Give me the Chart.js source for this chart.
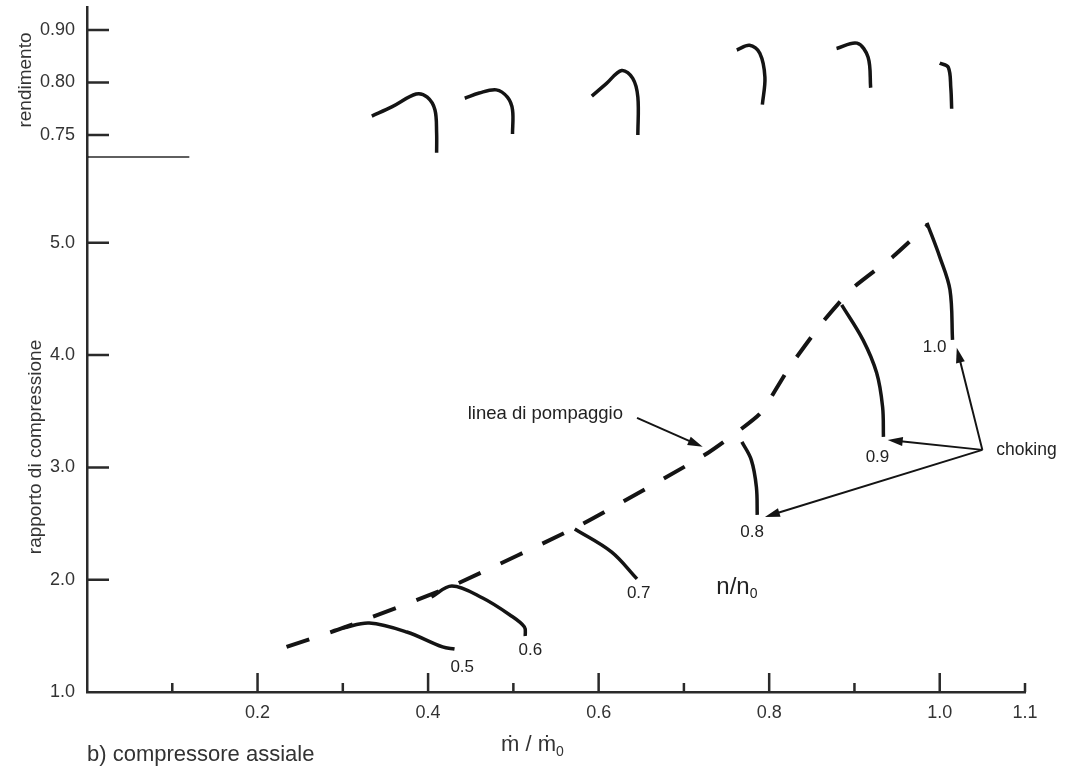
<!DOCTYPE html>
<html>
<head>
<meta charset="utf-8">
<script src="https://cdn.jsdelivr.net/npm/chart.js@4.4.0/dist/chart.umd.min.js"></script>
<style>
html, body { margin: 0; padding: 0; background: #fff; }
#wrap { width: 1068px; height: 769px; }
</style>
</head>
<body>
<div id="wrap"><canvas id="chartMap"></canvas></div>
<script>
// lower map: mass flow ratio (m/m0) vs pressure ratio, one line per speed n/n0
const speedLabels = ['0.5', '0.6', '0.7', '0.8', '0.9', '1.0'];

const flowN05 = [0.300, 0.331, 0.375, 0.417, 0.431];
const prN05 = [1.570, 1.614, 1.534, 1.401, 1.383];
const flowN06 = [0.404, 0.428, 0.464, 0.496, 0.513, 0.514];
const prN06 = [1.846, 1.944, 1.837, 1.686, 1.579, 1.499];
const flowN07 = [0.572, 0.615, 0.645];
const prN07 = [2.451, 2.247, 2.007];
const flowN08 = [0.768, 0.779, 0.785, 0.786];
const prN08 = [3.227, 3.067, 2.826, 2.577];
const flowN09 = [0.885, 0.910, 0.926, 0.933, 0.934];
const prN09 = [4.448, 4.136, 3.842, 3.539, 3.272];
const flowN10 = [0.985, 1.000, 1.012, 1.015];
const prN10 = [5.178, 4.875, 4.581, 4.136];

// surge line (linea di pompaggio)
const flowSurge = [0.234, 0.300, 0.428, 0.581, 0.728, 0.789, 0.824, 0.862, 0.897, 0.945, 0.986];
const prSurge = [1.401, 1.570, 1.944, 2.496, 3.128, 3.477, 3.895, 4.287, 4.590, 4.875, 5.160];

// where the speed labels sit
const labelFlow = [0.440, 0.520, 0.647, 0.780, 0.927, 0.994];
const labelPr = [1.223, 1.374, 1.882, 2.425, 3.094, 4.073];

// upper map: efficiency vs mass flow ratio
const flowEta05 = [0.334, 0.358, 0.386, 0.399, 0.408, 0.410, 0.410];
const eta05 = [0.768, 0.777, 0.789, 0.786, 0.774, 0.752, 0.733];
const flowEta06 = [0.443, 0.460, 0.480, 0.493, 0.499, 0.499];
const eta06 = [0.785, 0.790, 0.793, 0.786, 0.774, 0.751];
const flowEta07 = [0.592, 0.609, 0.627, 0.640, 0.646, 0.646];
const eta07 = [0.787, 0.799, 0.823, 0.808, 0.786, 0.750];
const flowEta08 = [0.762, 0.777, 0.789, 0.795, 0.792];
const eta08 = [0.862, 0.871, 0.856, 0.810, 0.779];
const flowEta09 = [0.879, 0.903, 0.916, 0.919];
const eta09 = [0.865, 0.875, 0.848, 0.795];
const flowEta10 = [1.000, 1.010, 1.013, 1.014];
const eta10 = [0.837, 0.829, 0.795, 0.775];

// choking arrows: start point and the three targets
const chokeFlow = 1.050;
const chokePr = 3.156;
const chokeTargetFlow = [1.020, 0.939, 0.795];
const chokeTargetPr = [4.065, 3.245, 2.559];
// surge label arrow
const surgeArrowFlow = [0.645, 0.722];
const surgeArrowPr = [3.441, 3.183];

// axes ticks
const xMajorTicks = [0.2, 0.4, 0.6, 0.8, 1.0];
const xMinorTicks = [0.1, 0.3, 0.5, 0.7, 0.9, 1.1];
const xTickLabels = {0.2: '0.2', 0.4: '0.4', 0.6: '0.6', 0.8: '0.8', 1.0: '1.0', 1.1: '1.1'};
const prTicks = [1, 2, 3, 4, 5];
const etaTicks = [0.75, 0.80, 0.90];

// the efficiency axis is drawn with evenly spaced ticks (0.75, 0.80, 0.90)
function etaPos(v) {
    if (v <= etaTicks[1]) return (v - etaTicks[0]) / (etaTicks[1] - etaTicks[0]);
    return 1 + (v - etaTicks[1]) / (etaTicks[2] - etaTicks[1]);
}

function pts(xs, ys) {
    return xs.map((v, i) => ({x: v, y: ys[i]}));
}
function etaPts(xs, ys) {
    return xs.map((v, i) => ({x: v, y: etaPos(ys[i])}));
}

const ink = '#141414';
const textColor = '#333';
const font = "'Liberation Sans', 'DejaVu Sans', Arial, sans-serif";

function speedLine(data, axis) {
    return {
        data: data,
        yAxisID: axis,
        borderColor: ink,
        borderWidth: 3.5,
        pointRadius: 0,
        tension: 0.35,
        fill: false
    };
}

const datasets = [
    speedLine(pts(flowN05, prN05), 'y'),
    speedLine(pts(flowN06, prN06), 'y'),
    speedLine(pts(flowN07, prN07), 'y'),
    speedLine(pts(flowN08, prN08), 'y'),
    speedLine(pts(flowN09, prN09), 'y'),
    speedLine(pts(flowN10, prN10), 'y'),
    {
        data: pts(flowSurge, prSurge),
        yAxisID: 'y',
        borderColor: ink,
        borderWidth: 4,
        borderDash: [24, 22],
        pointRadius: 0,
        tension: 0.15,
        fill: false
    },
    speedLine(etaPts(flowEta05, eta05), 'eta'),
    speedLine(etaPts(flowEta06, eta06), 'eta'),
    speedLine(etaPts(flowEta07, eta07), 'eta'),
    speedLine(etaPts(flowEta08, eta08), 'eta'),
    speedLine(etaPts(flowEta09, eta09), 'eta'),
    speedLine(etaPts(flowEta10, eta10), 'eta')
];

function arrow(ctx, x0, y0, x1, y1) {
    const a = Math.atan2(y1 - y0, x1 - x0);
    const len = 15, half = 4.5;
    ctx.beginPath();
    ctx.moveTo(x0, y0);
    ctx.lineTo(x1 - Math.cos(a) * len * 0.7, y1 - Math.sin(a) * len * 0.7);
    ctx.stroke();
    ctx.beginPath();
    ctx.moveTo(x1, y1);
    ctx.lineTo(x1 - len * Math.cos(a) + half * Math.sin(a), y1 - len * Math.sin(a) - half * Math.cos(a));
    ctx.lineTo(x1 - len * Math.cos(a) - half * Math.sin(a), y1 - len * Math.sin(a) + half * Math.cos(a));
    ctx.closePath();
    ctx.fill();
}

const decor = {
    id: 'decor',
    afterDraw(chart) {
        const {ctx, chartArea: area} = chart;
        const xs = chart.scales.x, ys = chart.scales.y, es = chart.scales.eta;
        ctx.save();

        // tick marks pointing into the plot
        ctx.strokeStyle = '#2a2a2a';
        ctx.lineWidth = 2.5;
        ctx.beginPath();
        prTicks.forEach(v => {
            const p = ys.getPixelForValue(v);
            if (v === prTicks[0]) return;
            ctx.moveTo(area.left, p);
            ctx.lineTo(area.left + 22, p);
        });
        etaTicks.forEach((v, i) => {
            const p = es.getPixelForValue(i);
            ctx.moveTo(area.left, p);
            ctx.lineTo(area.left + 22, p);
        });
        xMajorTicks.forEach(v => {
            const p = xs.getPixelForValue(v);
            ctx.moveTo(p, area.bottom);
            ctx.lineTo(p, area.bottom - 19);
        });
        xMinorTicks.forEach(v => {
            const p = xs.getPixelForValue(v);
            ctx.moveTo(p, area.bottom);
            ctx.lineTo(p, area.bottom - 9);
        });
        ctx.stroke();

        // separator between efficiency and pressure ratio panels
        ctx.lineWidth = 1.5;
        ctx.beginPath();
        ctx.moveTo(area.left, es.bottom);
        ctx.lineTo(xs.getPixelForValue(0.12), es.bottom);
        ctx.stroke();

        // arrows
        ctx.strokeStyle = ink;
        ctx.fillStyle = ink;
        ctx.lineWidth = 2;
        const cx = xs.getPixelForValue(chokeFlow), cy = ys.getPixelForValue(chokePr);
        chokeTargetFlow.forEach((f, i) => {
            arrow(ctx, cx, cy, xs.getPixelForValue(f), ys.getPixelForValue(chokeTargetPr[i]));
        });
        arrow(ctx,
            xs.getPixelForValue(surgeArrowFlow[0]), ys.getPixelForValue(surgeArrowPr[0]),
            xs.getPixelForValue(surgeArrowFlow[1]), ys.getPixelForValue(surgeArrowPr[1]));

        // texts
        ctx.fillStyle = '#222';
        ctx.textAlign = 'center';
        ctx.textBaseline = 'middle';
        ctx.font = '17px ' + font;
        speedLabels.forEach((s, i) => {
            ctx.fillText(s, xs.getPixelForValue(labelFlow[i]), ys.getPixelForValue(labelPr[i]));
        });

        ctx.textAlign = 'left';
        ctx.font = '17.5px ' + font;
        ctx.fillText('choking', cx + 14, cy);

        ctx.textAlign = 'right';
        ctx.font = '18.5px ' + font;
        ctx.fillText('linea di pompaggio', xs.getPixelForValue(surgeArrowFlow[0]) - 14, ys.getPixelForValue(surgeArrowPr[0]) - 4);

        // n/n0
        ctx.textAlign = 'left';
        ctx.font = '24px ' + font;
        const nx = xs.getPixelForValue(0.738), ny = ys.getPixelForValue(1.935);
        ctx.fillText('n/n', nx, ny);
        const nw = ctx.measureText('n/n').width;
        ctx.font = '14px ' + font;
        ctx.fillText('0', nx + nw, ny + 7);

        // x axis title
        ctx.fillStyle = textColor;
        ctx.font = '22px ' + font;
        ctx.textBaseline = 'alphabetic';
        ctx.fillText('ṁ / ṁ', 501, 751);
        const mw = ctx.measureText('ṁ / ṁ').width;
        ctx.font = '14px ' + font;
        ctx.fillText('0', 501 + mw, 756);

        ctx.font = '22px ' + font;
        ctx.fillText('b) compressore assiale', 87, 761);

        // y axis titles
        ctx.font = '19px ' + font;
        ctx.textAlign = 'center';
        ctx.textBaseline = 'middle';
        ctx.save();
        ctx.translate(26, 80);
        ctx.rotate(-Math.PI / 2);
        ctx.fillText('rendimento', 0, 0);
        ctx.restore();
        ctx.save();
        ctx.translate(36, 447);
        ctx.rotate(-Math.PI / 2);
        ctx.fillText('rapporto di compressione', 0, 0);
        ctx.restore();

        ctx.restore();
    }
};

const tickFont = {family: font, size: 18};

// stop the axes from reserving extra room for half labels at the edges
function noEdgePadding(s) {
    s.paddingTop = 0;
    s.paddingBottom = 0;
    s.paddingLeft = 0;
    s.paddingRight = 0;
}

new Chart(document.getElementById('chartMap'), {
    type: 'line',
    data: {datasets: datasets},
    options: {
        responsive: true,
        maintainAspectRatio: false,
        animation: false,
        devicePixelRatio: 1,
        layout: {padding: {top: 7, right: 43, left: 0, bottom: 0}},
        plugins: {legend: {display: false}, tooltip: {enabled: false}},
        scales: {
            x: {
                type: 'linear',
                min: 0,
                max: 1.1,
                grid: {display: false, drawTicks: false},
                border: {display: true, color: '#2a2a2a', width: 2.5},
                afterBuildTicks: s => { s.ticks = Object.keys(xTickLabels).map(k => ({value: Number(k)})); },
                afterFit: s => { s.height = 77; noEdgePadding(s); },
                ticks: {
                    padding: 10,
                    color: textColor,
                    font: tickFont,
                    maxRotation: 0,
                    autoSkip: false,
                    callback: v => xTickLabels[v] || ''
                }
            },
            y: {
                type: 'linear',
                position: 'left',
                stack: 'panels',
                stackWeight: 535,
                min: 1,
                max: 5.764,
                grid: {display: false, drawTicks: false},
                border: {display: true, color: '#2a2a2a', width: 2.5},
                afterBuildTicks: s => { s.ticks = prTicks.map(v => ({value: v})); },
                afterFit: s => { s.width = 87; noEdgePadding(s); },
                ticks: {
                    padding: 12,
                    color: textColor,
                    font: tickFont,
                    callback: v => v.toFixed(1)
                }
            },
            eta: {
                type: 'linear',
                position: 'left',
                stack: 'panels',
                stackWeight: 150,
                min: -0.42,
                max: 2.44,
                grid: {display: false, drawTicks: false},
                border: {display: true, color: '#2a2a2a', width: 2.5},
                afterBuildTicks: s => { s.ticks = etaTicks.map((v, i) => ({value: i})); },
                afterFit: s => { s.width = 87; noEdgePadding(s); },
                ticks: {
                    padding: 12,
                    color: textColor,
                    font: tickFont,
                    callback: v => etaTicks[v].toFixed(2)
                }
            }
        }
    },
    plugins: [decor]
});
</script>
</body>
</html>
